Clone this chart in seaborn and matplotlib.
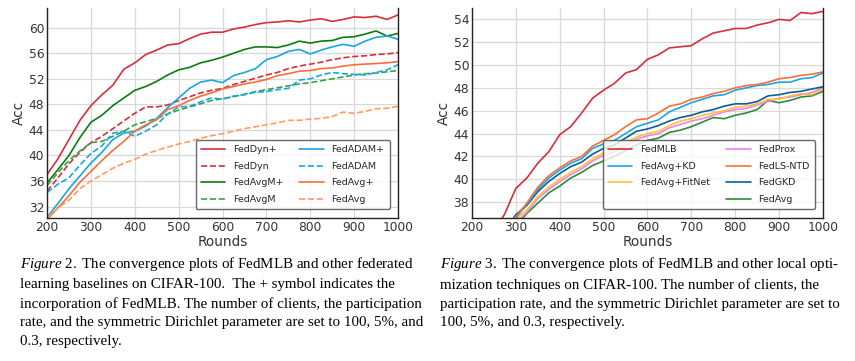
import numpy as np
import pandas as pd
import matplotlib.pyplot as plt
import seaborn as sns
from matplotlib.lines import Line2D

# ---- Figure 2 data (CIFAR-100, federated baselines) ----
rounds_l = list(range(200, 1001, 25))

fed_dyn_plus = [37.0, 39.5, 42.5, 45.5, 47.8, 49.5, 51.0, 53.5, 54.5, 55.8, 56.5, 57.3, 57.5,
                58.3, 59.0, 59.3, 59.3, 59.8, 60.1, 60.5, 60.8, 60.9, 61.1, 60.9, 61.2, 61.4,
                61.0, 61.3, 61.7, 61.6, 61.8, 61.3, 62.0]
fed_dyn = [34.4, 36.5, 38.7, 40.5, 42.0, 43.0, 44.2, 45.4, 46.6, 47.6, 47.6, 47.9, 48.6,
           49.2, 49.8, 50.2, 50.5, 51.1, 51.6, 52.1, 52.6, 53.0, 53.6, 54.0, 54.3, 54.6,
           55.0, 55.3, 55.5, 55.6, 55.8, 55.9, 56.1]
fed_avgm_plus = [35.7, 37.8, 40.0, 42.8, 45.2, 46.3, 47.8, 49.0, 50.2, 50.8, 51.6, 52.6, 53.4,
                 53.8, 54.5, 54.9, 55.4, 56.0, 56.6, 57.0, 57.0, 56.9, 57.3, 57.9, 57.6, 57.9,
                 58.0, 58.5, 58.6, 59.0, 59.5, 58.7, 59.1]
fed_avgm = [35.3, 37.3, 39.2, 40.7, 42.0, 42.2, 43.0, 43.8, 44.8, 45.3, 45.8, 46.5, 47.1,
            47.6, 48.1, 48.6, 48.9, 49.2, 49.6, 50.0, 50.3, 50.6, 50.9, 51.2, 51.4, 51.7,
            52.0, 52.3, 52.6, 52.8, 52.9, 53.1, 53.3]
fed_adam_plus = [30.3, 32.5, 34.8, 36.8, 38.8, 40.5, 42.5, 43.5, 43.8, 44.6, 45.8, 47.5, 49.0,
                 50.5, 51.5, 51.8, 51.4, 52.5, 53.0, 53.6, 55.0, 55.5, 56.3, 56.6, 55.9, 56.5,
                 57.0, 57.4, 57.1, 57.9, 58.5, 58.7, 58.2]
fed_adam = [34.2, 35.5, 36.5, 38.5, 40.3, 41.5, 43.5, 43.8, 43.0, 43.8, 44.8, 46.5, 47.6,
            47.7, 48.4, 49.0, 48.8, 49.3, 49.5, 49.9, 50.0, 50.3, 50.5, 51.8, 52.0, 52.6,
            53.0, 52.8, 52.7, 52.6, 53.0, 53.4, 54.2]
fed_avg_plus = [30.0, 31.8, 33.7, 35.8, 37.5, 39.2, 40.8, 42.2, 43.8, 44.8, 45.6, 47.2, 47.8,
                48.6, 49.3, 49.8, 50.4, 50.8, 51.2, 51.5, 51.9, 52.5, 52.8, 53.2, 53.3, 53.6,
                53.7, 54.0, 54.2, 54.3, 54.4, 54.5, 54.7]
fed_avg_l = [30.2, 31.8, 33.0, 34.8, 36.0, 37.0, 38.0, 38.8, 39.4, 40.2, 40.8, 41.3, 41.8,
             42.2, 42.7, 43.1, 43.4, 43.8, 44.2, 44.5, 44.8, 45.1, 45.5, 45.5, 45.7, 45.8,
             46.1, 46.8, 46.6, 46.9, 47.3, 47.4, 47.7]

# ---- Figure 3 data (local optimization techniques) ----
rounds_r = list(range(250, 1001, 25))
nan = np.nan

fed_mlb = [35.3, 37.0, 39.2, 40.1, 41.4, 42.4, 43.9, 44.6, 45.8, 47.1, 47.8, 48.4, 49.3,
           49.6, 50.5, 50.9, 51.5, 51.6, 51.7, 52.3, 52.8, 53.0, 53.2, 53.2, 53.5, 53.7,
           54.0, 53.9, 54.6, 54.5, 54.7]
fed_avg_kd = [nan, 35.3, 36.6, 37.8, 39.1, 40.1, 40.8, 41.4, 41.8, 42.7, 43.1, 43.4, 44.0,
              44.6, 44.9, 45.2, 45.9, 46.3, 46.7, 47.0, 47.3, 47.4, 47.8, 48.0, 48.2, 48.3,
              48.5, 48.5, 48.8, 48.9, 49.3]
fed_avg_fitnet = [nan, 35.0, 36.5, 37.3, 38.5, 39.3, 40.0, 40.6, 41.1, 41.8, 42.3, 42.6, 43.2,
                  43.7, 44.0, 44.2, 44.7, 45.1, 45.3, 45.6, 45.8, 46.0, 46.3, 46.4, 46.6, 47.0,
                  47.0, 47.3, 47.5, 47.4, 47.9]
fed_prox = [nan, 34.8, 36.2, 37.1, 38.3, 39.1, 39.8, 40.4, 40.9, 41.6, 42.1, 42.4, 42.9,
            43.5, 43.8, 44.0, 44.5, 44.8, 45.1, 45.3, 45.6, 45.9, 46.1, 46.2, 46.5, 46.8,
            47.1, 47.2, 47.4, 47.6, 48.0]
fed_ls_ntd = [nan, 35.4, 36.7, 37.9, 39.3, 40.3, 41.0, 41.6, 42.0, 42.9, 43.4, 43.9, 44.6,
              45.2, 45.3, 45.8, 46.4, 46.6, 47.0, 47.2, 47.5, 47.7, 48.0, 48.2, 48.3, 48.5,
              48.8, 48.9, 49.1, 49.2, 49.4]
fed_gkd = [nan, 35.4, 36.9, 37.7, 38.9, 39.8, 40.5, 41.1, 41.5, 42.2, 42.7, 43.0, 43.6,
           44.2, 44.4, 44.7, 45.1, 45.4, 45.6, 45.9, 46.1, 46.4, 46.6, 46.6, 46.8, 47.3,
           47.4, 47.6, 47.7, 47.9, 48.1]
fed_avg_r = [nan, 34.5, 35.9, 37.0, 37.9, 38.8, 39.4, 40.1, 40.6, 41.2, 41.6, 42.0, 42.5,
             43.0, 43.4, 43.6, 44.1, 44.3, 44.6, 45.0, 45.4, 45.3, 45.6, 45.8, 46.1, 46.9,
             46.7, 46.9, 47.2, 47.3, 47.7]

sns.set_style("whitegrid")
plt.rcParams["font.family"] = ["DejaVu Sans"]
plt.rcParams["mathtext.fontset"] = "custom"
plt.rcParams["mathtext.it"] = "Liberation Serif:italic"
plt.rcParams["mathtext.rm"] = "Liberation Serif"

fig = plt.figure(figsize=(8.55, 3.61), dpi=100)
ax1 = fig.add_axes([0.055, 0.396, 0.4105, 0.582])
ax2 = fig.add_axes([0.552, 0.396, 0.4105, 0.582])

left_series = [
    ("FedDyn+", fed_dyn_plus, "#d62f3b", "-"),
    ("FedDyn", fed_dyn, "#d62f3b", "--"),
    ("FedAvgM+", fed_avgm_plus, "#0d7a12", "-"),
    ("FedAvgM", fed_avgm, "#3aa04a", "--"),
    ("FedADAM+", fed_adam_plus, "#18a8e0", "-"),
    ("FedADAM", fed_adam, "#18a8e0", "--"),
    ("FedAvg+", fed_avg_plus, "#fa6e3c", "-"),
    ("FedAvg", fed_avg_l, "#ff9b66", "--"),
]
for name, vals, col, ls in left_series:
    sns.lineplot(x=rounds_l, y=vals, ax=ax1, color=col, linestyle=ls, linewidth=1.2, label=name)

right_series = [
    ("FedMLB", fed_mlb, "#d62f3b"),
    ("FedAvg+KD", fed_avg_kd, "#18a8e0"),
    ("FedAvg+FitNet", fed_avg_fitnet, "#ffc13b"),
    ("FedProx", fed_prox, "#ee82ee"),
    ("FedLS-NTD", fed_ls_ntd, "#fa6e3c"),
    ("FedGKD", fed_gkd, "#0b5d9a"),
    ("FedAvg", fed_avg_r, "#2e8b3a"),
]
# draw order: lower curves first
for name, vals, col in [right_series[i] for i in (6, 3, 2, 5, 1, 4, 0)]:
    sns.lineplot(x=rounds_r, y=vals, ax=ax2, color=col, linewidth=1.2, label=name)

for ax in (ax1, ax2):
    ax.set_xlim(200, 1000)
    ax.set_xticks(range(200, 1001, 100))
    ax.set_xlabel("Rounds", fontsize=9.8, color="#333333", labelpad=1)
    ax.set_ylabel("Acc", fontsize=9.8, color="#333333", labelpad=2)
    ax.tick_params(axis="both", labelsize=8.8, colors="#333333", length=0, pad=2)
    ax.grid(True, color="#d8d8d8", linewidth=0.9)
    for s in ("left", "bottom", "right"):
        ax.spines[s].set_color("#222222")
        ax.spines[s].set_linewidth(1.0)
    ax.spines["top"].set_visible(False)

ax1.set_ylim(30.2, 63.1)
ax1.set_yticks(range(32, 61, 4))
ax2.set_ylim(36.6, 55.0)
ax2.set_yticks(range(38, 55, 2))

leg_kw = dict(ncol=2, loc="lower right", bbox_to_anchor=(0.99, 0.02), fontsize=6.8,
              handlelength=2.6, columnspacing=1.7, labelspacing=0.8, borderpad=0.55,
              edgecolor="#444444", framealpha=0.8, fancybox=True)

# legends
h1, l1 = ax1.get_legend_handles_labels()
ax1.get_legend().remove()
ax1.legend(h1, l1, **leg_kw)

h2, l2 = ax2.get_legend_handles_labels()
ax2.get_legend().remove()
hmap = dict(zip(l2, h2))
blank = Line2D([], [], color="none")
order = ["FedMLB", "FedAvg+KD", "FedAvg+FitNet", None, "FedProx", "FedLS-NTD", "FedGKD", "FedAvg"]
hs = [hmap[n] if n else blank for n in order]
ls_ = [n if n else "" for n in order]
ax2.legend(hs, ls_, **leg_kw)

cap_kw = dict(fontsize=10.8, family="Liberation Serif", va="top", ha="left",
              linespacing=1.54, color="black")
fig.text(0.023, 0.294,
         "$\\mathit{Figure\\ 2.}$ The convergence plots of FedMLB and other federated\n"
         "learning baselines on CIFAR-100.  The + symbol indicates the\n"
         "incorporation of FedMLB. The number of clients, the participation\n"
         "rate, and the symmetric Dirichlet parameter are set to 100, 5%, and\n"
         "0.3, respectively.", **cap_kw)
fig.text(0.515, 0.294,
         "$\\mathit{Figure\\ 3.}$ The convergence plots of FedMLB and other local opti-\n"
         "mization techniques on CIFAR-100. The number of clients, the\n"
         "participation rate, and the symmetric Dirichlet parameter are set to\n"
         "100, 5%, and 0.3, respectively.", **cap_kw)

fig.savefig("out.png", dpi=100)
